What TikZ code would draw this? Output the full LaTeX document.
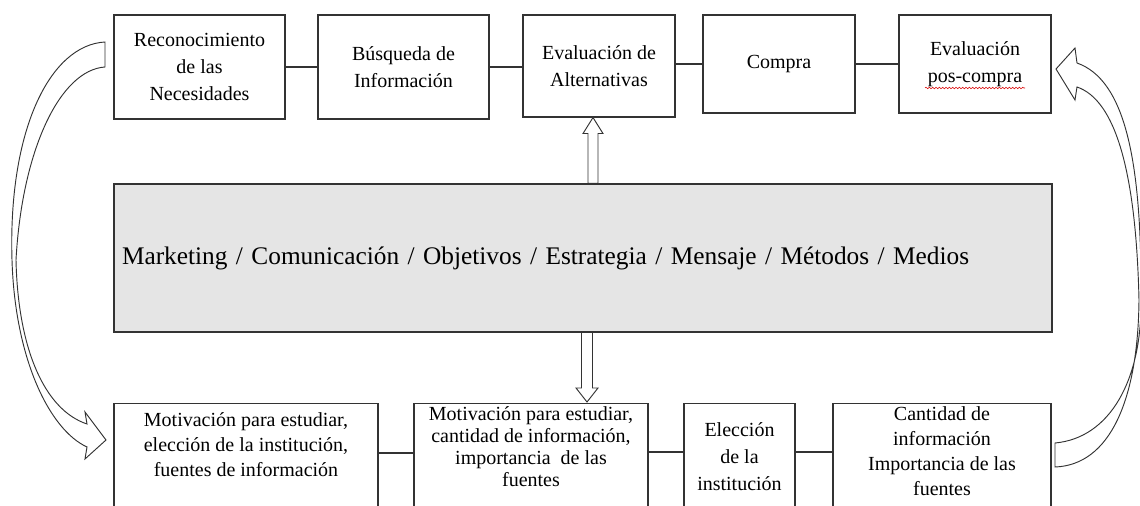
\documentclass[tikz,border=0pt]{standalone}
\usepackage{fontspec}
\setmainfont{Liberation Serif}
\usepackage{tikz}
\usetikzlibrary{calc,decorations.pathmorphing}

\newlength{\pxu}
\setlength{\pxu}{0.75pt}

\begin{document}
\begin{tikzpicture}[x=\pxu, y=-\pxu,
  caja/.style={draw=black!80, line width=0.8pt, align=center, inner sep=0pt,
    font=\fontsize{15}{20}\selectfont},
  texto/.style={align=center, inner sep=0pt, anchor=north},
  linea/.style={draw=black!80, line width=0.8pt},
  hueca/.style={draw=black!80, fill=white, line width=0.7pt, line join=miter}]
  \clip (0,0) rectangle (1140,506);

  % Etapas del proceso de compra
  \node[caja, minimum width=171*\pxu, minimum height=104*\pxu] (nec) at (199.5,67) {Reconocimiento\\de las\\Necesidades};
  \node[caja, minimum width=171*\pxu, minimum height=104*\pxu] (bus) at (403.5,67) {Búsqueda de\\Información};
  \node[caja, minimum width=152*\pxu, minimum height=102*\pxu] (eva) at (599,66) {Evaluación de\\Alternativas};
  \node[caja, minimum width=152*\pxu, minimum height=98*\pxu] (com) at (779,64) {Compra};
  \node[caja, minimum width=152*\pxu, minimum height=98*\pxu] (pos) at (975,64) {Evaluación\\pos-compra};
  \draw[red!85!black, line width=0.4pt, decorate, decoration={snake, amplitude=0.6pt, segment length=2.5pt}]
    ($(pos.center)+(-50,24)$) -- ($(pos.center)+(50,24)$);

  \draw[linea] (nec) -- (bus);
  \draw[linea] (bus.east) -- (bus.east -| eva.west);
  \draw[linea] (com.west -| eva.east) -- (com.west);
  \draw[linea] (com) -- (pos);

  % Bloque central
  \node[draw=black!80, line width=0.8pt, fill=black!10, minimum width=938*\pxu, minimum height=148*\pxu,
    text width=691.5pt, inner xsep=6pt, align=left, font=\fontsize{19}{24}\selectfont] (mkt) at (583,258)
    {Marketing / Comunicación / Objetivos / Estrategia / Mensaje / Métodos / Medios};

  % Factores
  \node[caja, anchor=north, minimum width=264*\pxu, minimum height=115*\pxu] (mot) at (246,403) {};
  \node[caja, anchor=north, minimum width=234*\pxu, minimum height=115*\pxu] (mcf) at (531,403) {};
  \node[caja, anchor=north, minimum width=111*\pxu, minimum height=115*\pxu] (ele) at (739.5,403) {};
  \node[caja, anchor=north, minimum width=218*\pxu, minimum height=115*\pxu] (cif) at (942,403) {};

  \node[texto, font=\fontsize{15}{18.75}\selectfont] (tmot) at ($(mot.north)+(0,9)$)
    {Motivación para estudiar,\\elección de la institución,\\fuentes de información};
  \node[texto, font=\fontsize{15}{16.5}\selectfont] (tmcf) at ($(mcf.north)+(0,3)$)
    {Motivación para estudiar,\\cantidad de información,\\importancia \ de las\\fuentes};
  \node[texto, font=\fontsize{15}{20.5}\selectfont] (tele) at ($(ele.north)+(0,19)$)
    {Elección\\de la\\institución};
  \node[texto, font=\fontsize{15}{18.75}\selectfont] (tcif) at ($(cif.north)+(0,3)$)
    {Cantidad de\\información\\Importancia de las\\fuentes};

  \draw[linea] ($(mot.north east)+(0,50)$) -- ($(mcf.north west)+(0,50)$);
  \draw[linea] ($(mcf.north east)+(0,49)$) -- ($(ele.north west)+(0,49)$);
  \draw[linea] ($(ele.north east)+(0,49)$) -- ($(cif.north west)+(0,49)$);

  % Flechas de bloque
  \coordinate (arr1) at ($(mkt.north)+(10,0)$);
  \coordinate (tip1) at (arr1 |- eva.south);
  \draw[hueca] ($(arr1)+(-5,0)$) -- ($(tip1)+(-5,16)$) -- ($(tip1)+(-10,16)$) -- (tip1)
    -- ($(tip1)+(10,16)$) -- ($(tip1)+(5,16)$) -- ($(arr1)+(5,0)$) -- cycle;

  \coordinate (arr2) at ($(mkt.south)+(4,0)$);
  \coordinate (tip2) at ($(arr2 |- mcf.north)+(0,-1)$);
  \draw[hueca] ($(arr2)+(-5.5,0)$) -- ($(tip2)+(-5.5,-14)$) -- ($(tip2)+(-11,-14)$) -- (tip2)
    -- ($(tip2)+(11,-14)$) -- ($(tip2)+(5.5,-14)$) -- ($(arr2)+(5.5,0)$) -- cycle;

  % Flechas curvas
  \draw[hueca] (105,42) .. controls (50,45) and (8,130) .. (12,260)
    .. controls (15,360) and (50,430) .. (87,447) -- (85,459) -- (106,440) -- (85,412) -- (87,424)
    .. controls (45,410) and (18,350) .. (16,260) .. controls (22,150) and (60,70) .. (105,67) -- cycle;
  \draw[hueca] (1055,443) .. controls (1110,438) and (1142,380) .. (1141,300)
    .. controls (1142,160) and (1125,80) .. (1077,63) -- (1075,48) -- (1056,69) -- (1075,100) -- (1077,87)
    .. controls (1115,100) and (1136,170) .. (1139,300) .. controls (1138,400) and (1110,465) .. (1055,467) -- cycle;
\end{tikzpicture}
\end{document}
